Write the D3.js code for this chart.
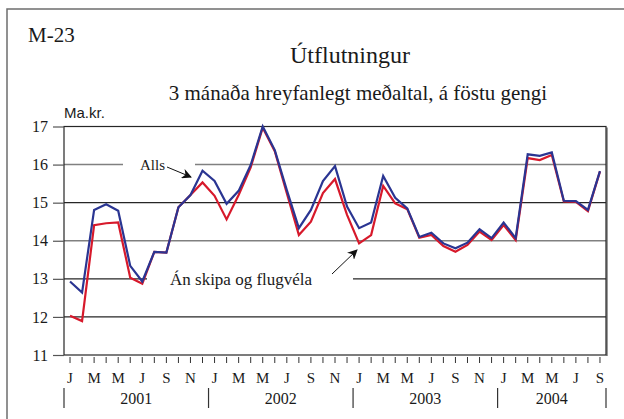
<!DOCTYPE html>
<html lang="is">
  <head>
    <meta charset="UTF-8" />
    <title>Útflutningur</title>
    <style>
      body {
        margin: 0;
        padding: 0;
        background-color: #ffffff;
      }
      svg text {
        font-family: "Liberation Serif", "Times New Roman", serif;
        fill: #1a1a1a;
      }
    </style>
  </head>
  <body>
    <div id="chart"></div>

    <script src="https://d3js.org/d3.v7.min.js"></script>
    <script>
      // monthly, Jan 2001 - Sep 2004 (45 months)
      const years = ["2001", "2002", "2003", "2004"];
      const monthTicks = ["J", "M", "M", "J", "S", "N"];
      const alls = [
        12.93, 12.64, 14.81, 14.96, 14.79, 13.34, 12.93, 13.71, 13.69, 14.88,
        15.2, 15.84, 15.57, 14.97, 15.31, 15.99, 17.0, 16.38, 15.33, 14.33,
        14.81, 15.57, 15.96, 14.9, 14.33, 14.48, 15.7, 15.13, 14.85, 14.1,
        14.21, 13.93, 13.8, 13.95, 14.3, 14.07, 14.48, 14.07, 16.27, 16.23,
        16.32, 15.05, 15.04, 14.81, 15.83,
      ];
      const anSkipa = [
        12.03, 11.89, 14.41, 14.46, 14.48, 13.03, 12.87, 13.71, 13.69, 14.88,
        15.2, 15.53, 15.18, 14.56, 15.2, 15.93, 16.97, 16.35, 15.25, 14.15,
        14.5, 15.25, 15.62, 14.68, 13.93, 14.15, 15.44, 14.98, 14.83, 14.08,
        14.15, 13.86, 13.71, 13.89, 14.24, 14.02, 14.41, 14.02, 16.17, 16.12,
        16.25, 15.03, 15.02, 14.78, 15.82,
      ];
      const yTicks = [11, 12, 13, 14, 15, 16, 17];

      const width = 624,
        height = 419;
      const plot = { left: 64, right: 606, top: 126.5, bottom: 355 };

      const svg = d3
        .select("#chart")
        .append("svg")
        .attr("width", width)
        .attr("height", height);

      // outer frame (left + top only)
      svg
        .append("path")
        .attr("d", `M7,${height} V9 H${width}`)
        .attr("fill", "none")
        .attr("stroke", "#6e6e6e")
        .attr("stroke-width", 1.5);

      svg.append("text").attr("x", 28).attr("y", 42)
        .style("font-size", "21px").text("M-23");
      svg.append("text").attr("x", 350).attr("y", 63)
        .attr("text-anchor", "middle").style("font-size", "24px")
        .text("Útflutningur");
      svg.append("text").attr("x", 358).attr("y", 100)
        .attr("text-anchor", "middle").style("font-size", "21px")
        .text("3 mánaða hreyfanlegt meðaltal, á föstu gengi");
      svg.append("text").attr("x", 64).attr("y", 118)
        .style("font-family", '"Liberation Sans Narrow", "Arial Narrow", sans-serif')
        .style("font-size", "15px").text("Ma.kr.");

      const idx = d3.range(alls.length);
      const x = d3
        .scaleBand()
        .domain(idx)
        .range([plot.left, plot.right]);
      const xc = (i) => x(i) + x.bandwidth() / 2;
      const y = d3.scaleLinear().domain([11, 17]).range([plot.bottom, plot.top]);

      // grid lines, with gaps where the labels sit
      const gaps = { 16: [123, 195], 13: [147, 353] };
      yTicks
        .filter((v) => v > 11 && v < 17)
        .forEach((v) => {
          const light = v === 16 || v === 14;
          const segs = gaps[v]
            ? [[plot.left, gaps[v][0]], [gaps[v][1], plot.right]]
            : [[plot.left, plot.right]];
          segs.forEach((s) => {
            svg
              .append("line")
              .attr("x1", s[0])
              .attr("x2", s[1])
              .attr("y1", y(v))
              .attr("y2", y(v))
              .attr("stroke", light ? "#808080" : "#262626")
              .attr("stroke-width", light ? 1.5 : 1.1);
          });
        });

      // plot frame
      svg
        .append("line")
        .attr("x1", plot.right + 1).attr("x2", plot.right + 1)
        .attr("y1", plot.top + 1).attr("y2", plot.bottom + 1)
        .attr("stroke", "#9a9a9a").attr("stroke-width", 2);
      svg
        .append("rect")
        .attr("x", plot.left)
        .attr("y", plot.top)
        .attr("width", plot.right - plot.left)
        .attr("height", plot.bottom - plot.top)
        .attr("fill", "none")
        .attr("stroke", "#262626")
        .attr("stroke-width", 1.2);

      // y axis
      const yAxis = svg
        .append("g")
        .attr("transform", `translate(${plot.left},0)`)
        .call(d3.axisLeft(y).tickValues(yTicks).tickSize(11).tickPadding(5).tickFormat(d3.format("d")));
      yAxis.select(".domain").remove();
      yAxis.selectAll("line").attr("stroke", "#555").attr("stroke-width", 1.2);
      yAxis.selectAll("text")
        .style("font-family", '"Liberation Serif", serif')
        .style("font-size", "16px")
        .attr("fill", "#1a1a1a");

      // x ticks at every month
      svg
        .append("g")
        .selectAll("line")
        .data(idx)
        .join("line")
        .attr("x1", xc)
        .attr("x2", xc)
        .attr("y1", plot.bottom + 2)
        .attr("y2", plot.bottom + 8)
        .attr("stroke", "#333")
        .attr("stroke-width", 1);

      // month letters every second month
      svg
        .append("g")
        .selectAll("text")
        .data(idx.filter((i) => i % 2 === 0))
        .join("text")
        .attr("x", xc)
        .attr("y", 383)
        .attr("text-anchor", "middle")
        .style("font-size", "15px")
        .text((i) => monthTicks[(i % 12) / 2]);

      // year separators and labels
      const yearStart = (k) => x(k * 12);
      const sepX = years.map((d, k) => yearStart(k)).concat([plot.right]);
      svg
        .append("g")
        .selectAll("line")
        .data(sepX)
        .join("line")
        .attr("x1", (d) => d)
        .attr("x2", (d) => d)
        .attr("y1", 388)
        .attr("y2", 408)
        .attr("stroke", "#333")
        .attr("stroke-width", 1.2);
      svg
        .append("g")
        .selectAll("text")
        .data(years)
        .join("text")
        .attr("x", (d, k) => (sepX[k] + sepX[k + 1]) / 2)
        .attr("y", 404)
        .attr("text-anchor", "middle")
        .style("font-size", "16px")
        .text((d) => d);

      // series lines
      const line = d3
        .line()
        .x((d, i) => xc(i))
        .y((d) => y(d));
      svg
        .append("path")
        .datum(anSkipa)
        .attr("d", line)
        .attr("fill", "none")
        .attr("stroke", "#d7192b")
        .attr("stroke-width", 2.2)
        .attr("stroke-linejoin", "miter");
      svg
        .append("path")
        .datum(alls)
        .attr("d", line)
        .attr("fill", "none")
        .attr("stroke", "#2a3592")
        .attr("stroke-width", 2.2)
        .attr("stroke-linejoin", "miter");

      // annotations
      svg
        .append("defs")
        .append("marker")
        .attr("id", "arrow")
        .attr("viewBox", "0 0 10 10")
        .attr("refX", 9)
        .attr("refY", 5)
        .attr("markerWidth", 10)
        .attr("markerHeight", 10)
        .attr("markerUnits", "userSpaceOnUse")
        .attr("orient", "auto")
        .append("path")
        .attr("d", "M0,0 L10,5 L0,10 L3,5 Z")
        .attr("fill", "#111");

      svg.append("text").attr("x", 140).attr("y", 170)
        .style("font-size", "15px").text("Alls");
      svg.append("line")
        .attr("x1", 167).attr("y1", 167).attr("x2", 191).attr("y2", 177)
        .attr("stroke", "#111").attr("stroke-width", 1)
        .attr("marker-end", "url(#arrow)");

      svg.append("text").attr("x", 170).attr("y", 285)
        .style("font-size", "17px").text("Án skipa og flugvéla");
      svg.append("line")
        .attr("x1", 332).attr("y1", 274).attr("x2", 357).attr("y2", 250)
        .attr("stroke", "#111").attr("stroke-width", 1)
        .attr("marker-end", "url(#arrow)");
    </script>
  </body>
</html>
